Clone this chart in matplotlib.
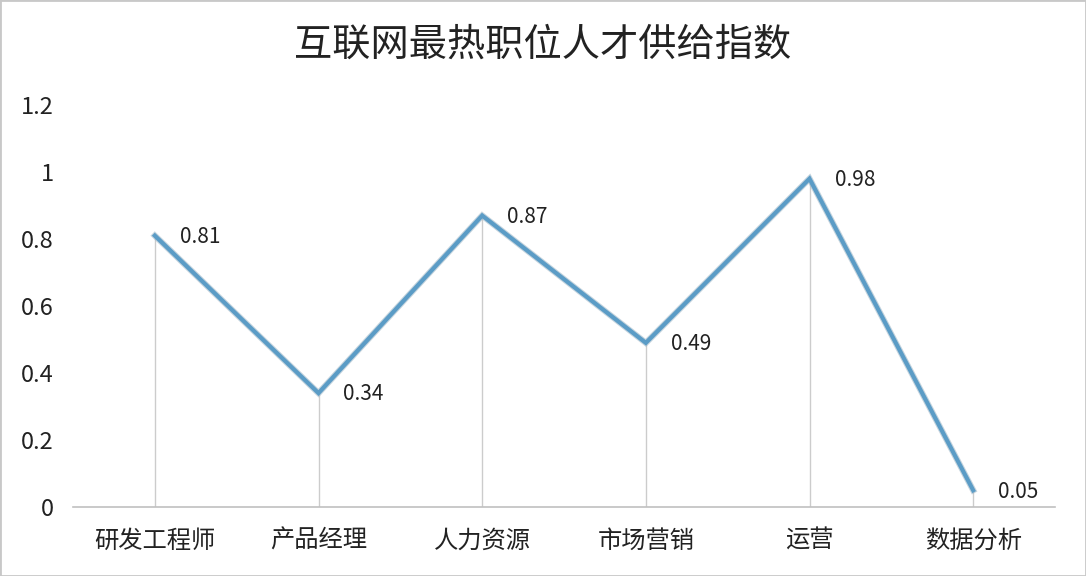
import matplotlib
matplotlib.use("Agg")
import matplotlib.pyplot as plt
from matplotlib.patches import Rectangle

plt.rcParams['font.family'] = ['Noto Sans CJK SC', 'DejaVu Sans']

title = "互联网最热职位人才供给指数"
categories = ["研发工程师", "产品经理", "人力资源", "市场营销", "运营", "数据分析"]
values = [0.81, 0.34, 0.87, 0.49, 0.98, 0.05]
y_ticks = [0, 0.2, 0.4, 0.6, 0.8, 1.0, 1.2]
y_tick_labels = ["0", "0.2", "0.4", "0.6", "0.8", "1", "1.2"]

fig = plt.figure(figsize=(10.86, 5.76), dpi=100, facecolor="white")
ax = fig.add_axes([73/1086, (576-507)/576, (1055-73)/1086, (507-105)/576])
ax.set_facecolor("none")

x = list(range(len(categories)))
ax.set_xlim(-0.5, len(categories) - 0.5)
ax.set_ylim(0, 1.2)

# drop lines
ax.vlines(x, 0, values, colors="#cccccc", linewidth=1.0, zorder=1)
# shadow line
ax.plot(x, values, color="#9fb8c8", linewidth=4.5, alpha=0.6, zorder=2, solid_joinstyle="miter")
ax.plot(x, values, color="#5b9cc6", linewidth=3.0, zorder=3, solid_joinstyle="miter")

for xi, v in zip(x, values):
    ax.annotate(f"{v:g}", (xi, v), xytext=(18, -1), textcoords="offset points",
                ha="left", va="center", fontsize=15, color="#222222")

ax.set_yticks(y_ticks)
ax.set_yticklabels(y_tick_labels, fontsize=17, color="#222222")
ax.set_xticks(x)
ax.set_xticklabels(categories, fontsize=17.5, color="#222222")
ax.tick_params(axis="both", length=0)
ax.tick_params(axis="y", pad=14)
ax.tick_params(axis="x", pad=15)
for s in ["top", "right", "left"]:
    ax.spines[s].set_visible(False)
ax.spines["bottom"].set_color("#c0c0c0")
ax.spines["bottom"].set_linewidth(1.2)

fig.text(543/1086, 1 - 45/576, title, ha="center", va="center", fontsize=27.5, color="#222222")

fig.patches.append(Rectangle((0, 0), 1, 1, transform=fig.transFigure, fill=False,
                             edgecolor="#c8c8c8", linewidth=2))

fig.savefig("out.png", dpi=100, facecolor="white")
